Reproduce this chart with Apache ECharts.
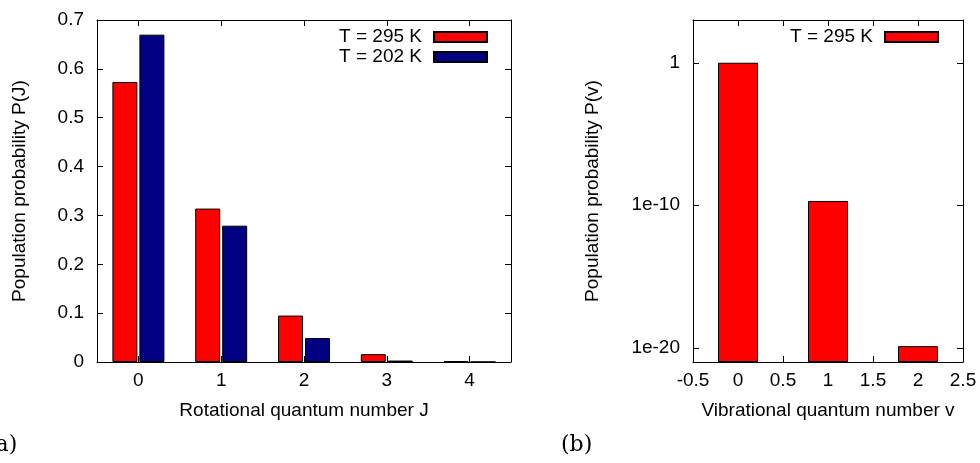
<!DOCTYPE html>
<html><head><meta charset="utf-8">
<script src="https://cdn.jsdelivr.net/npm/echarts@6/dist/echarts.min.js"></script>
<style>html,body{margin:0;padding:0;background:#fff}#c{width:980px;height:463px}</style>
</head><body><div id="c"></div>
<script>
// Panel (a): rotational populations
const jCategories = ['0', '1', '2', '3', '4'];
const p295 = [0.573, 0.314, 0.095, 0.016, 0.002];
const p202 = [0.670, 0.279, 0.049, 0.003, 0.0003];
// Panel (b): vibrational populations (log scale)
const vLevels = [0, 1, 2];
const pv295 = [1, 2e-10, 1.3e-20];
const vTickLabels = {0: '1', '-10': '1e-10', '-20': '1e-20'};
const seriesNames = ['T = 295 K', 'T = 202 K'];

const FONT = 'Liberation Sans, Arial, sans-serif';
const SERIF = 'DejaVu Serif, serif';
const fs = 19;
const black = '#000';
const frameLine = {show: true, onZero: false, lineStyle: {color: black, width: 1}};
const tickIn = {show: true, inside: true, length: 6, lineStyle: {color: black}};
const legendText = {fontSize: fs, color: black, fontFamily: FONT, lineHeight: 20, padding: [0, 7, 0, 0]};

const chart = echarts.init(document.getElementById('c'));
chart.setOption({
  animation: false,
  textStyle: {fontFamily: FONT},
  title: [
    {text: '(a)', left: -13, top: 434, padding: 0, textStyle: {fontFamily: SERIF, fontSize: 22, fontWeight: 'normal', color: black}},
    {text: '(b)', left: 561, top: 434, padding: 0, textStyle: {fontFamily: SERIF, fontSize: 22, fontWeight: 'normal', color: black}}
  ],
  grid: [
    {left: 97, right: 980 - 511, top: 20, bottom: 463 - 362},
    {left: 693, right: 980 - 963, top: 20, bottom: 463 - 362}
  ],
  legend: [
    {data: seriesNames, right: 487, top: 22, orient: 'vertical', align: 'right', icon: 'rect',
     itemWidth: 53, itemHeight: 10, itemGap: 0, textStyle: legendText},
    {data: [seriesNames[0]], right: 36, top: 22, orient: 'vertical', align: 'right', icon: 'rect',
     itemWidth: 53, itemHeight: 10, itemGap: 0, textStyle: legendText}
  ],
  xAxis: [
    {gridIndex: 0, type: 'category', data: jCategories, position: 'bottom',
     axisLine: frameLine, axisTick: Object.assign({alignWithLabel: true}, tickIn),
     axisLabel: {fontSize: fs, color: black, margin: 9},
     name: 'Rotational quantum number J', nameLocation: 'middle', nameGap: 39,
     nameTextStyle: {fontSize: fs, color: black}},
    {gridIndex: 0, type: 'category', data: jCategories, position: 'top',
     axisLine: frameLine, axisTick: Object.assign({alignWithLabel: true}, tickIn), axisLabel: {show: false}},
    {gridIndex: 1, type: 'value', min: -0.5, max: 2.5, interval: 0.5, position: 'bottom',
     axisLine: frameLine, axisTick: tickIn, splitLine: {show: false},
     axisLabel: {fontSize: fs, color: black, margin: 9},
     name: 'Vibrational quantum number v', nameLocation: 'middle', nameGap: 39,
     nameTextStyle: {fontSize: fs, color: black}},
    {gridIndex: 1, type: 'value', min: -0.5, max: 2.5, interval: 0.5, position: 'top',
     axisLine: frameLine, axisTick: tickIn, splitLine: {show: false}, axisLabel: {show: false}}
  ],
  yAxis: [
    {gridIndex: 0, type: 'value', min: 0, max: 0.7, interval: 0.1, position: 'left',
     axisLine: frameLine, axisTick: tickIn, splitLine: {show: false},
     axisLabel: {fontSize: fs, color: black, margin: 13},
     name: 'Population probability P(J)', nameLocation: 'middle', nameGap: 68,
     nameTextStyle: {fontSize: fs, color: black}},
    {gridIndex: 0, type: 'value', min: 0, max: 0.7, interval: 0.1, position: 'right',
     axisLine: frameLine, axisTick: tickIn, splitLine: {show: false}, axisLabel: {show: false}},
    {gridIndex: 1, type: 'log', logBase: 10, min: 1e-21, max: 1e3, startValue: 1e-21, splitNumber: 5, position: 'left',
     axisLine: frameLine, axisTick: tickIn, splitLine: {show: false}, minorTick: {show: false},
     axisLabel: {fontSize: fs, color: black, margin: 13, showMinLabel: false, showMaxLabel: false,
       formatter: function (v) { const e = Math.round(Math.log10(v)); return vTickLabels[e] !== undefined ? vTickLabels[e] : ''; }},
     name: 'Population probability P(v)', nameLocation: 'middle', nameGap: 91,
     nameTextStyle: {fontSize: fs, color: black}},
    {gridIndex: 1, type: 'log', logBase: 10, min: 1e-21, max: 1e3, splitNumber: 5, position: 'right',
     axisLine: frameLine, axisTick: tickIn, splitLine: {show: false}, axisLabel: {show: false}}
  ],
  series: [
    {name: seriesNames[0], type: 'bar', xAxisIndex: 0, yAxisIndex: 0, data: p295, barWidth: 25, barGap: '8%',
     itemStyle: {color: '#ff0000', borderColor: '#000', borderWidth: 1}},
    {name: seriesNames[1], type: 'bar', xAxisIndex: 0, yAxisIndex: 0, data: p202, barWidth: 25, barGap: '8%',
     itemStyle: {color: '#000080', borderColor: '#000', borderWidth: 1}},
    {name: seriesNames[0], type: 'bar', xAxisIndex: 2, yAxisIndex: 2, barWidth: 40,
     data: vLevels.map((v, i) => [v, pv295[i]]),
     itemStyle: {color: '#ff0000', borderColor: '#000', borderWidth: 1}}
  ]
});
</script>
</body></html>
